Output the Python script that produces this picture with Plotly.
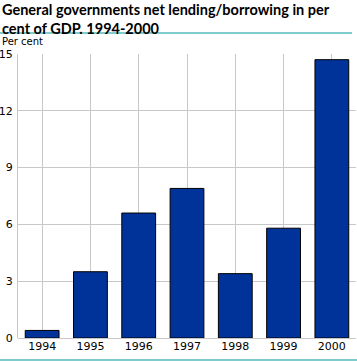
import plotly.graph_objects as go

years = ["1994", "1995", "1996", "1997", "1998", "1999", "2000"]
values = [0.4, 3.5, 6.6, 7.9, 3.4, 5.8, 14.7]
y_ticks = [0, 3, 6, 9, 12, 15]
title_text = "General governments net lending/borrowing in per<br>cent of GDP. 1994-2000"
unit_label = "Per cent"

W, H = 357, 361
L, R, T, B = 18, 1, 54, 23
pw, ph = W - L - R, H - T - B

def px(x):
    return (x - L) / pw

def py(y):
    return (H - B - y) / ph

fig = go.Figure()
fig.add_trace(go.Bar(
    x=years, y=values, width=0.7,
    marker=dict(color="#003399", line=dict(color="#000000", width=1)),
    hoverinfo="x+y",
))

fig.update_layout(
    width=W, height=H,
    margin=dict(l=L, r=R, t=T, b=B, pad=0, autoexpand=False),
    paper_bgcolor="white", plot_bgcolor="white",
    showlegend=False,
    font=dict(family="DejaVu Sans", size=11, color="black"),
    xaxis=dict(
        type="category", range=[-0.5, 6.5], automargin=False,
        showgrid=True, gridcolor="#c8c8c8", gridwidth=1,
        showline=False, zeroline=False, ticks="",
        tickfont=dict(size=11), fixedrange=True,
    ),
    yaxis=dict(
        range=[0, 15], tickvals=y_ticks, automargin=False,
        showgrid=True, gridcolor="#c8c8c8", gridwidth=1,
        zeroline=True, zerolinecolor="#c8c8c8", zerolinewidth=1,
        showline=True, linecolor="#c8c8c8", linewidth=1,
        ticks="", ticklabelstandoff=2, tickfont=dict(size=11), fixedrange=True,
    ),
    annotations=[
        dict(text="<b>" + title_text + "</b>", xref="paper", yref="paper",
             x=px(0), y=py(-1), xanchor="left", yanchor="top", align="left",
             showarrow=False, font=dict(family="Lato", size=14.5, color="black")),
        dict(text=unit_label, xref="paper", yref="paper",
             x=px(0), y=py(34), xanchor="left", yanchor="top", align="left",
             showarrow=False, font=dict(family="DejaVu Sans", size=10, color="black")),
    ],
    shapes=[
        dict(type="line", xref="paper", yref="paper", x0=px(0), x1=px(352),
             y0=py(33), y1=py(33), line=dict(color="#009999", width=1)),
        dict(type="line", xref="paper", yref="paper", x0=px(0), x1=px(357),
             y0=py(360), y1=py(360), line=dict(color="#009999", width=1)),
    ],
)

fig.write_html("out.html", config={"displayModeBar": False},
               post_script="document.body.style.margin='0';")
